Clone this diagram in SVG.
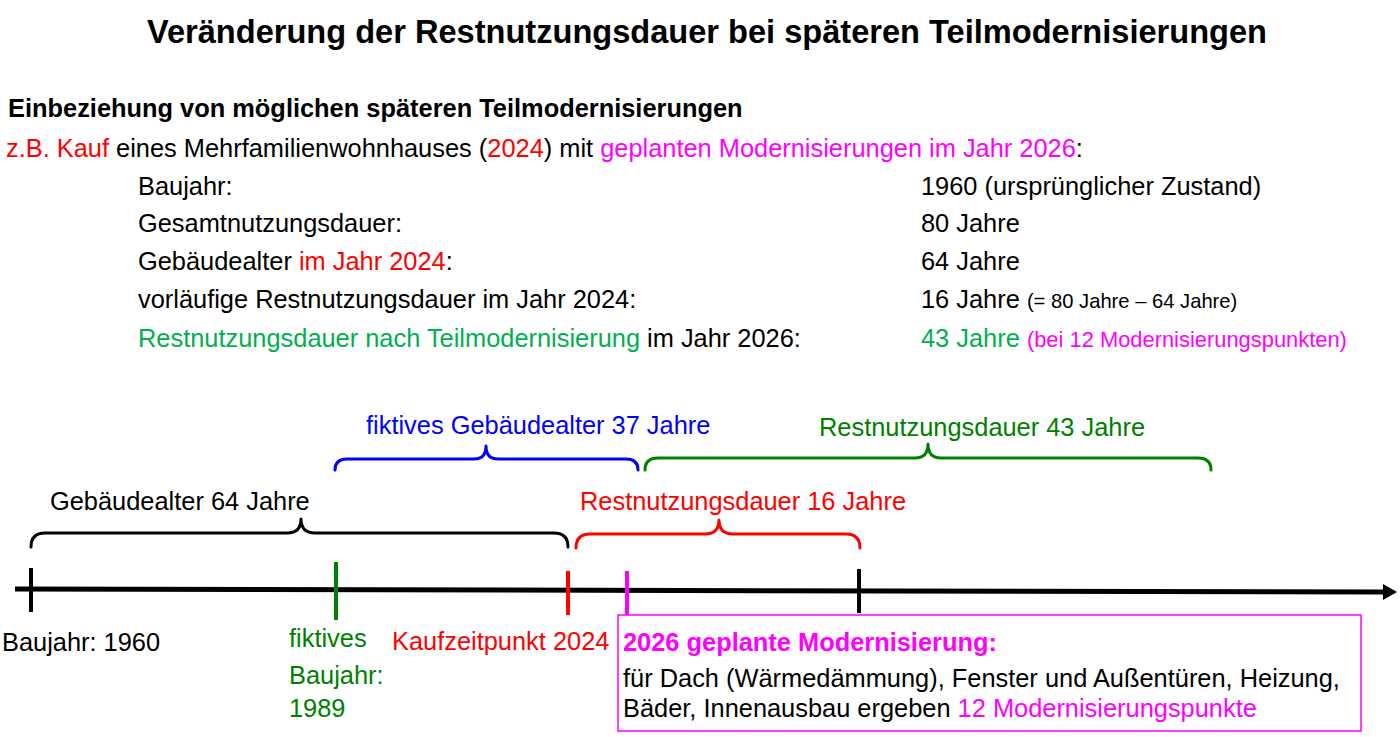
<svg xmlns="http://www.w3.org/2000/svg" width="1400" height="737" viewBox="0 0 1400 737">
<style>
text{font-family:"Liberation Sans",Arial,sans-serif;font-size:25.4px;fill:#000}
.b{font-weight:bold}
.red{fill:#FF0000}.mag{fill:#FF00FF}.lg{fill:#00B050}.dg{fill:#008000}.blue{fill:#0000FF}
.sm{font-size:20.2px}
.brace{fill:none;stroke-width:3;stroke-linecap:round;stroke-linejoin:round}
.tick{stroke-width:4}
</style>
<defs>
<marker id="arr" markerWidth="10" markerHeight="10" refX="0" refY="5" orient="auto" markerUnits="userSpaceOnUse" viewBox="0 0 10 10" overflow="visible">
<path d="M0,-3 L14,5 L0,13 Z" fill="#000"/>
</marker>
</defs>
<rect width="1400" height="737" fill="#fff"/>
<g id="title"><text x="707" y="43" class="b" text-anchor="middle" style="font-size:32.6px">Veränderung der Restnutzungsdauer bei späteren Teilmodernisierungen</text></g>
<g id="intro">
<text x="8" y="117" class="b">Einbeziehung von möglichen späteren Teilmodernisierungen</text>
<text x="6" y="157"><tspan class="red">z.B. Kauf</tspan> eines Mehrfamilienwohnhauses (<tspan class="red">2024</tspan>) mit <tspan class="mag">geplanten Modernisierungen im Jahr 2026</tspan>:</text>
</g>
<g id="table">
<text x="138" y="195">Baujahr:</text>
<text x="921" y="195">1960 (ursprünglicher Zustand)</text>
<text x="138" y="232">Gesamtnutzungsdauer:</text>
<text x="921" y="232">80 Jahre</text>
<text x="138" y="270">Gebäudealter <tspan class="red">im Jahr 2024</tspan>:</text>
<text x="921" y="270">64 Jahre</text>
<text x="138" y="308">vorläufige Restnutzungsdauer im Jahr 2024:</text>
<text x="921" y="308">16 Jahre <tspan class="sm">(= 80 Jahre – 64 Jahre)</tspan></text>
<text x="138" y="347"><tspan class="lg">Restnutzungsdauer nach Teilmodernisierung</tspan> im Jahr 2026:</text>
<text x="921" y="347"><tspan class="lg">43 Jahre</tspan> <tspan class="mag" style="font-size:21.9px">(bei 12 Modernisierungspunkten)</tspan></text>
</g>
<g id="connectors">
<line x1="15" y1="589" x2="1383" y2="592" stroke="#000" stroke-width="5" marker-end="url(#arr)"/>
</g>
<g id="ticks">
<line class="tick" x1="31" y1="568" x2="31" y2="612" stroke="#000"/>
<line class="tick" x1="336" y1="562" x2="336" y2="620" stroke="#008000"/>
<line class="tick" x1="568" y1="571" x2="568" y2="615" stroke="#FF0000"/>
<line class="tick" x1="627" y1="571" x2="627" y2="615" stroke="#FF00FF"/>
<line class="tick" x1="859" y1="569" x2="859" y2="613" stroke="#000"/>
</g>
<g id="brace-age64">
<path class="brace" stroke="#000" d="M31,547 Q31,533 45,533 L287,533 Q301,533 301,519 Q301,533 315,533 L554,533 Q568,533 568,547"/>
<text x="50" y="510">Gebäudealter 64 Jahre</text>
</g>
<g id="brace-age37">
<path class="brace" stroke="#0000FF" d="M335,470 Q335,459 347,459 L474,459 Q486,459 486,446 Q486,459 498,459 L626,459 Q638,459 638,470"/>
<text x="366" y="434" class="blue">fiktives Gebäudealter 37 Jahre</text>
</g>
<g id="brace-rnd43">
<path class="brace" stroke="#008000" d="M645,470 Q645,458 658,458 L915,458 Q928,458 928,444 Q928,458 941,458 L1198,458 Q1211,458 1211,470"/>
<text x="819" y="436" class="dg">Restnutzungsdauer 43 Jahre</text>
</g>
<g id="brace-rnd16">
<path class="brace" stroke="#FF0000" d="M576,548 Q576,534 590,534 L705,534 Q719,534 719,520 Q719,534 733,534 L846,534 Q860,534 860,548"/>
<text x="580" y="510" class="red">Restnutzungsdauer 16 Jahre</text>
</g>
<g id="label-baujahr"><text x="2" y="651">Baujahr: 1960</text></g>
<g id="label-fiktiv">
<text x="289" y="647" class="dg">fiktives</text>
<text x="289" y="684" class="dg">Baujahr:</text>
<text x="289" y="717" class="dg">1989</text>
</g>
<g id="label-kauf"><text x="392" y="650" class="red">Kaufzeitpunkt 2024</text></g>
<g id="box-modernisierung">
<rect x="618" y="615" width="743" height="116" fill="#fff" stroke="#FF00FF" stroke-width="1.5"/>
<text x="623" y="651" class="b mag">2026 geplante Modernisierung:</text>
<text x="623" y="687">für Dach (Wärmedämmung), Fenster und Außentüren, Heizung,</text>
<text x="623" y="717">Bäder, Innenausbau ergeben <tspan class="mag">12 Modernisierungspunkte</tspan></text>
</g>
</svg>
